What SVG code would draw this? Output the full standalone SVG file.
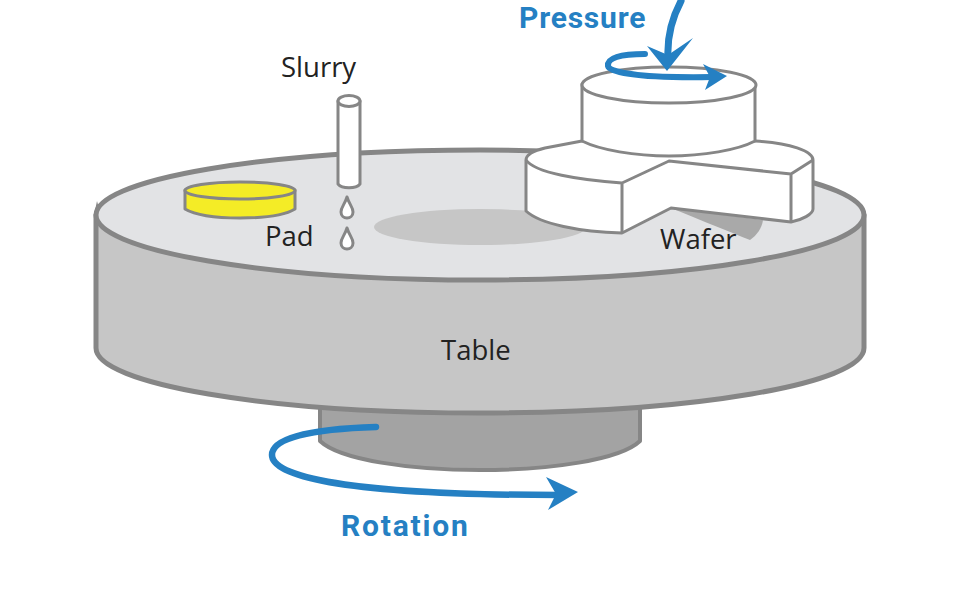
<svg xmlns="http://www.w3.org/2000/svg" width="960" height="611" viewBox="0 0 960 611">
<style>
.t{font-family:"Open Sans","Noto Sans","Liberation Sans",sans-serif;font-size:27.500px;fill:#222}
.b{font-family:Roboto,"Open Sans","Liberation Sans",sans-serif;font-size:30px;font-weight:700;fill:#2580c3}
.o{stroke:#868686;stroke-width:3;stroke-linejoin:round}
.w{fill:#fff}
.a{fill:none;stroke:#2580c3;stroke-linecap:round}
.h{fill:#2580c3}
</style>
<rect width="960" height="611" fill="#fff"/>
<g id="shaft"><path d="M320 405V441C340 460 410 470 480 470S620 460 640 441V405Z" fill="#a3a3a3" stroke="#868686" stroke-width="4" stroke-linejoin="round"/></g>
<g id="table">
<path d="M96 215V348C96 384 268 413 480 413S864 384 864 348V215Z" fill="#c6c6c6" stroke="#868686" stroke-width="5" stroke-linejoin="round"/>
<path d="M94 215L97 201L100 212Z" fill="#868686"/>
<ellipse cx="480" cy="215" rx="384" ry="65" fill="#e2e3e5" stroke="#868686" stroke-width="5"/>
<ellipse cx="480" cy="227" rx="106" ry="18" fill="#c6c6c6"/>
<path d="M671 208L763 220C762 228 757 235 750 240C730 232 705 222 671 208Z" fill="#a9a9a9"/>
<text class="t" x="441" y="360">Table</text>
</g>
<g id="pad">
<path class="o" d="M185 190V209C195 215 215 218 240 218S285 215 295 209V190Z" fill="#f4ec26"/>
<ellipse class="o" cx="240" cy="190.500" rx="55" ry="8.500" fill="#f4ec26"/>
<text class="t" x="265" y="246">Pad</text>
</g>
<g id="slurry">
<path class="o w" d="M338 101V184C342 189 356 189 360 184V101Z"/>
<ellipse class="o w" cx="349" cy="101" rx="11" ry="5.500"/>
<path class="o w" d="M347 197C345 204 341 207 341 212C341 220 353 220 353 212C353 207 349 204 347 197Z" stroke-width="2.500"/>
<path class="o w" d="M347 228C345 235 341 238 341 243C341 251 353 251 353 243C353 238 349 235 347 228Z" stroke-width="2.500"/>
<text class="t" x="281" y="77">Slurry</text>
</g>
<g id="wafer">
<path class="o w" d="M582 141L545 148C533 151 526 155 526 160V211C540 224 580 232 622 233L671 208L791 222C802 220 813 214 813 209V160C813 151 790 143 755 141Z"/>
<path class="o" fill="none" d="M526 160C535 173 580 180 622 183L669 161L791 174L813 160M622 183V233M791 174V222"/>
<path class="o w" d="M582 84V141C600 150 635 156 669 156S738 150 755 141V84Z"/>
<ellipse class="o w" cx="669" cy="85" rx="87" ry="18"/>
<text class="t" x="660" y="249">Wafer</text>
</g>
<g id="connectors">
<path class="a" stroke-width="6" d="M645 54C620 54 607 58 608 66C610 74 650 78 712 77"/>
<path class="h" d="M727 76L703 64L710 77L705 90Z"/>
<path class="a" stroke-width="7" d="M681 1C672 18 667 38 668 58"/>
<path class="h" d="M667 71L647 46L668 55L693 38Z"/>
<path class="a" stroke-width="6.500" d="M376 427C310 429 272 438 272 455C272 480 370 495 560 495"/>
<path class="h" d="M578 492L546 477L556 494L548 510Z"/>
</g>
<text class="b" x="519" y="27.500" letter-spacing="0.800">Pressure</text>
<text class="b" x="341" y="536" letter-spacing="1.800">Rotation</text>
</svg>
